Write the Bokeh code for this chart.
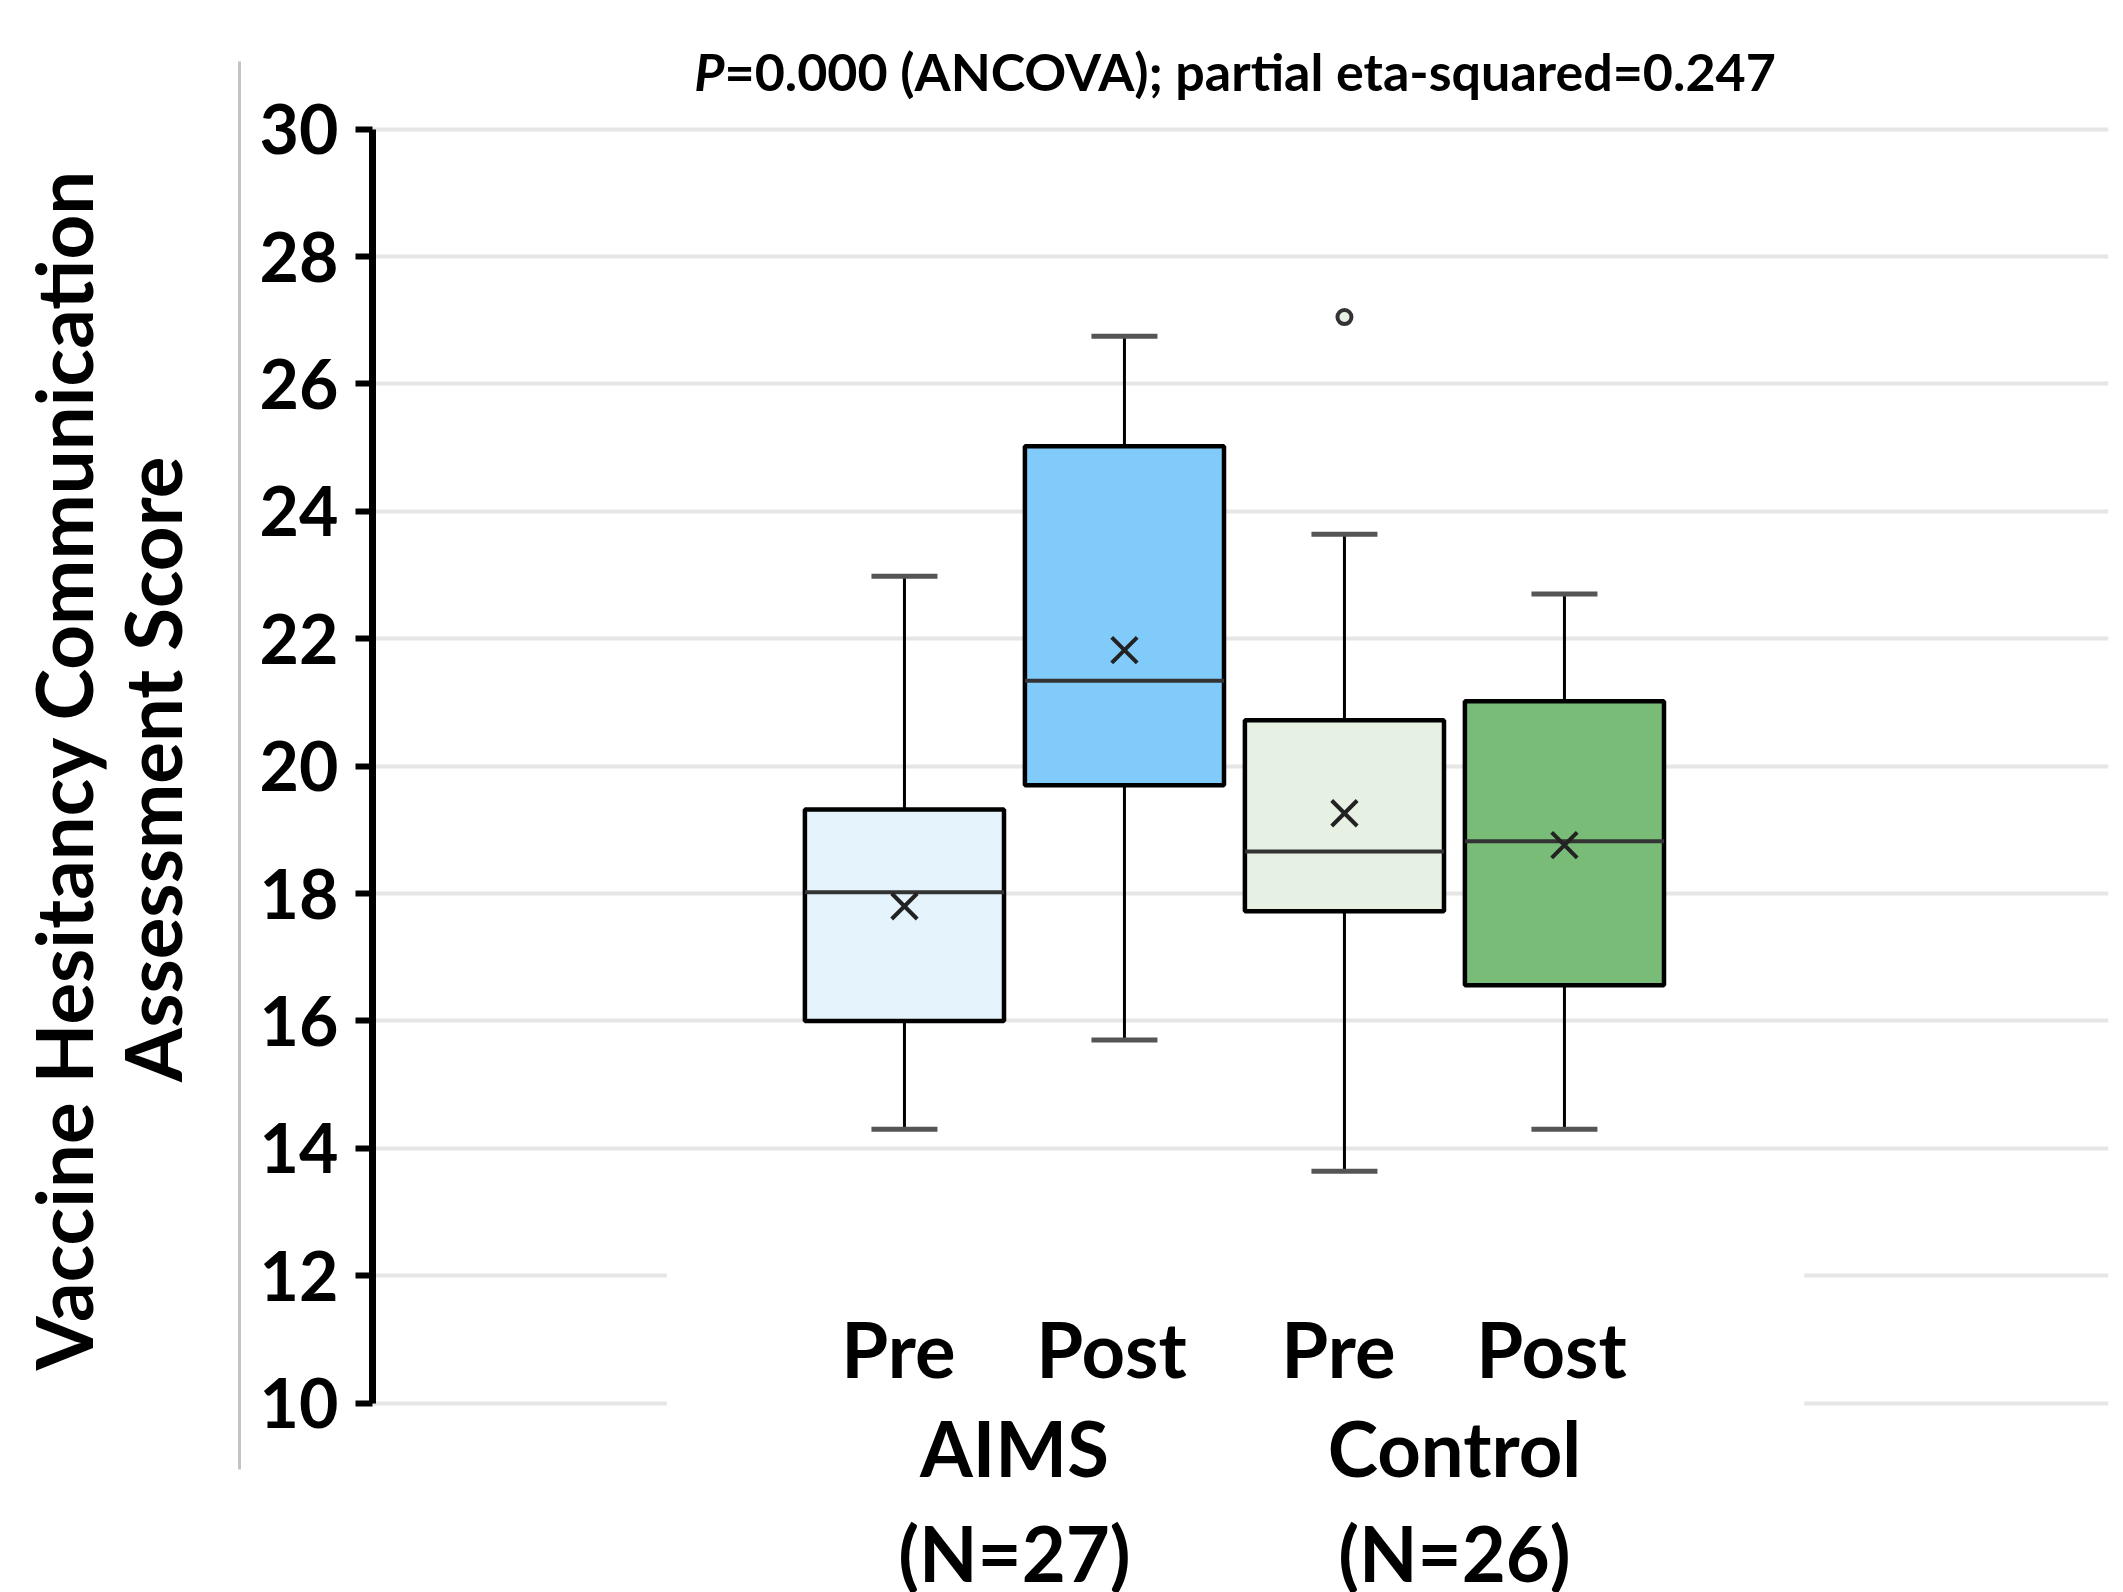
from bokeh.plotting import figure
from bokeh.models import LinearAxis, FixedTicker, BoxAnnotation, ColumnDataSource
from bokeh.core.properties import value
from bokeh.embed import file_html
from bokeh.resources import INLINE

# ---- data ----
phases = ["Pre", "Post", "Pre", "Post"]
group_names = ["AIMS", "Control"]
group_sizes = ["(N=27)", "(N=26)"]
q1 = [16.00, 19.70, 17.72, 16.56]
median = [18.02, 21.34, 18.66, 18.82]
q3 = [19.32, 25.02, 20.72, 21.02]
whisker_low = [14.30, 15.70, 13.64, 14.30]
whisker_high = [22.98, 26.75, 23.64, 22.70]
mean = [17.80, 21.82, 19.26, 18.76]
outlier_box = [2]          # index of the box the outlier belongs to
outlier_value = [27.05]
box_colors = ["#e5f3fd", "#81cbfb", "#e6f0e3", "#78bc78"]
y_ticks = [10, 12, 14, 16, 18, 20, 22, 24, 26, 28, 30]
title_p = "P"
title_rest = "=0.000 (ANCOVA); partial eta-squared=0.247"
y_label_lines = ["Vaccine Hesitancy Communication", "Assessment Score"]

FONT_NAME = "Lato"
FONT = value(FONT_NAME)
pos = [i + 1 for i in range(len(phases))]
box_w = 0.905
cap_half = 0.15

p = figure(width=2110, height=1592, output_backend="svg", toolbar_location=None,
           x_range=(-1.418, 6.473), y_range=(7.027, 32.019),
           x_axis_location=None, min_border_left=372, min_border_right=2,
           min_border_top=0, min_border_bottom=0)
p.outline_line_color = None
p.background_fill_color = "white"
p.border_fill_color = "white"
p.xgrid.visible = False

yax = p.yaxis[0]
yax.ticker = FixedTicker(ticks=y_ticks)
yax.bounds = (y_ticks[0], y_ticks[-1])
yax.axis_line_width = 7
yax.axis_line_color = "black"
yax.major_tick_line_width = 6
yax.major_tick_line_color = "black"
yax.major_tick_out = 17
yax.major_tick_in = 0
yax.minor_tick_line_color = None
yax.major_label_standoff = 17
yax.major_label_text_font = FONT_NAME
yax.major_label_text_font_style = "bold"
yax.major_label_text_font_size = "68px"
yax.major_label_text_color = "black"
yax.axis_label = " "
yax.axis_label_text_font_size = "12px"
yax.axis_label_standoff = 0

p.ygrid.ticker = FixedTicker(ticks=y_ticks)
p.ygrid.grid_line_color = "#e6e6e6"
p.ygrid.grid_line_width = 4

# outer thin gray axis carrying the title of the score axis
pad = "\u00a0" * 3
gax = LinearAxis(ticker=FixedTicker(ticks=[]), bounds=(8.96, 31.06))
gax.axis_line_color = "#c4c4c4"
gax.axis_line_width = 3
gax.major_tick_out = 0
gax.major_tick_in = 0
gax.major_label_standoff = 0
gax.minor_tick_line_color = None
gax.axis_label = "\n".join(pad + s for s in y_label_lines)
gax.axis_label_standoff = 41
gax.axis_label_text_font = FONT_NAME
gax.axis_label_text_font_style = "bold"
gax.axis_label_text_font_size = "78px"
gax.axis_label_text_line_height = 0.94
gax.axis_label_text_color = "black"
p.add_layout(gax, "left")

# white panel behind the category labels
p.add_layout(BoxAnnotation(left=-0.08, right=5.09, top=13.0, fill_color="white",
                           fill_alpha=1.0, line_color=None, level="underlay"))

src = ColumnDataSource(dict(
    pos=pos, left=[x - box_w / 2 for x in pos], right=[x + box_w / 2 for x in pos],
    q1=q1, q3=q3, med=median, lo=whisker_low, hi=whisker_high, mean=mean,
    cl=[x - cap_half for x in pos], cr=[x + cap_half for x in pos],
    color=box_colors, phase=phases,
    xoff=[-13 if ph == "Post" else -6 for ph in phases]))

# whiskers
p.segment(x0="pos", y0="q3", x1="pos", y1="hi", source=src, line_color="black", line_width=3)
p.segment(x0="pos", y0="q1", x1="pos", y1="lo", source=src, line_color="black", line_width=3)
p.segment(x0="cl", y0="hi", x1="cr", y1="hi", source=src, line_color="#555555", line_width=5)
p.segment(x0="cl", y0="lo", x1="cr", y1="lo", source=src, line_color="#555555", line_width=5)
# boxes
p.quad(left="left", right="right", bottom="q1", top="q3", source=src,
       fill_color="color", line_color="black", line_width=4.5)
p.segment(x0="left", y0="med", x1="right", y1="med", source=src, line_color="#333333", line_width=4)
p.scatter(x="pos", y="mean", source=src, marker="x", size=36, line_color="#222222", line_width=4)
# outlier
p.scatter(x=[pos[i] for i in outlier_box], y=outlier_value, marker="circle", size=14,
          fill_color=[box_colors[i] for i in outlier_box], line_color="#333333", line_width=4)

# category labels
p.text(x="pos", y=10.85, text="phase", source=src, x_offset="xoff",
       text_font=FONT, text_font_style="bold", text_font_size="76px",
       text_align="center", text_baseline="alphabetic", text_color="black")
gx = [(pos[2 * i] + pos[2 * i + 1]) / 2 for i in range(len(group_names))]
p.text(x=gx, y=[9.30] * len(gx), text=group_names,
       text_font=FONT, text_font_style="bold", text_font_size="76px",
       text_align="center", text_baseline="alphabetic", text_color="black")
p.text(x=gx, y=[7.66] * len(gx), text=group_sizes,
       text_font=FONT, text_font_style="bold", text_font_size="76px",
       text_align="center", text_baseline="alphabetic", text_color="black")

# title (italic P)
p.text(x=[0.182], y=[30.92], text=[title_p], text_font=FONT, text_font_style="bold italic",
       text_font_size="52px", text_align="right", text_baseline="alphabetic", text_color="black")
p.text(x=[0.182], y=[30.92], text=[title_rest], text_font=FONT, text_font_style="bold",
       text_font_size="52px", text_align="left", text_baseline="alphabetic", text_color="black")

open("out.html", "w").write(file_html(p, INLINE))
